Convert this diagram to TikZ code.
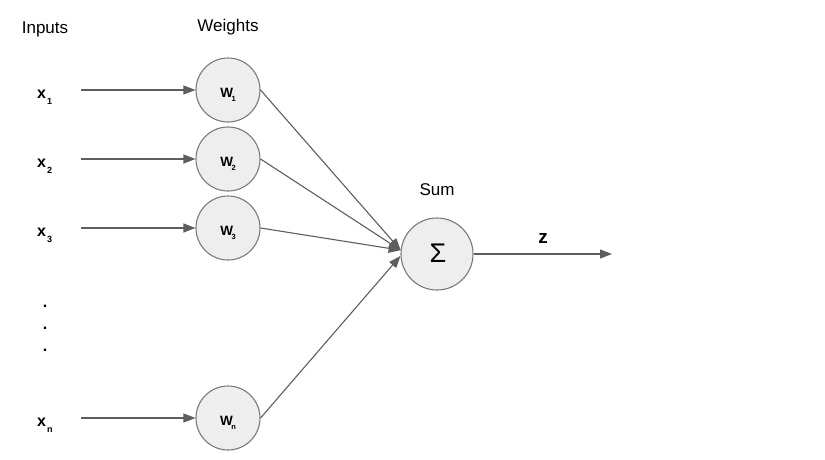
\documentclass[tikz,border=0pt]{standalone}
\usepackage{fontspec}
\setmainfont{Liberation Sans}
\usetikzlibrary{arrows.meta}
\definecolor{edge}{HTML}{5E5E5E}
\definecolor{ring}{HTML}{7A7A7A}
\definecolor{cellfill}{HTML}{EEEEEE}
\tikzset{
  head/.style={font=\fontsize{17}{20}\selectfont},
  inlabel/.style={font=\bfseries\fontsize{16}{18}\selectfont, inner sep=0pt},
  wnode/.style={circle, draw=ring, fill=cellfill, line width=1.1pt, minimum size=64pt, inner sep=0pt,
                font=\bfseries\fontsize{13.5}{15}\selectfont},
  sumnode/.style={circle, draw=ring, fill=cellfill, line width=1.1pt, minimum size=72pt, inner sep=0pt},
  conn/.style={draw=edge, line width=1.1pt, -{Triangle[length=12pt,width=9pt]}, color=edge},
}
% letter with a small lowered index
\newcommand{\sbx}[2]{#1\kern1pt\raisebox{-6.5pt}{\fontsize{9}{10}\selectfont #2}}
% weight label: baseline set 7pt below the circle centre
\newcommand{\sbw}[2]{\smash{\raisebox{-7pt}{#1\kern-1.5pt\raisebox{-4.5pt}{\fontsize{7.5}{8}\selectfont #2}}}}
\begin{document}
\begin{tikzpicture}[x=1pt,y=-1pt]
  \useasboundingbox (0,0) rectangle (825,459);

  % column headings
  \node[head] (hin)  at (45,29)  {Inputs};
  \node[head] (hw)   at (228,27) {Weights};
  \node[head] (hsum) at (437,190) {Sum};

  % inputs
  \node[inlabel, anchor=base west] (x1) at (37,98)  {\sbx{x}{1}};
  \node[inlabel, anchor=base west] (x2) at (37,167) {\sbx{x}{2}};
  \node[inlabel, anchor=base west] (x3) at (37,236) {\sbx{x}{3}};
  \node[inlabel, anchor=base west] (xn) at (37,426) {\sbx{x}{n}};
  \node[inlabel, anchor=base] (d1) at (45,307) {.};
  \node[inlabel, anchor=base] (d2) at (45,329) {.};
  \node[inlabel, anchor=base] (d3) at (45,351) {.};

  % weights
  \node[wnode] (w1) at (228,90)  {\sbw{W}{1}};
  \node[wnode] (w2) at (228,159) {\sbw{W}{2}};
  \node[wnode] (w3) at (228,228) {\sbw{W}{3}};
  \node[wnode] (wn) at (228,418) {\sbw{W}{n}};

  % summation
  \node[sumnode] (sum) at (437,254) {};
  \node[font=\fontsize{27}{29}\selectfont, inner sep=0pt] (sigma) at (438,253) {Σ};
  \coordinate (out) at (612,254);
  \node[font=\bfseries\fontsize{19}{21}\selectfont] (z) at (543,238) {z};

  % input connectors
  \coordinate (s1) at (81,90);
  \coordinate (s2) at (81,159);
  \coordinate (s3) at (81,228);
  \coordinate (sn) at (81,418);
  \draw[conn] (s1) -- (w1);
  \draw[conn] (s2) -- (w2);
  \draw[conn] (s3) -- (w3);
  \draw[conn] (sn) -- (wn);

  % weighted connectors into the sum
  \draw[conn] (w1.east) -- (sum.174);
  \draw[conn] (w2.east) -- (sum.174);
  \draw[conn] (w3.east) -- (sum.174);
  \draw[conn] (wn.east) -- (sum.183);

  % output
  \draw[conn] (sum) -- (out);
\end{tikzpicture}
\end{document}
